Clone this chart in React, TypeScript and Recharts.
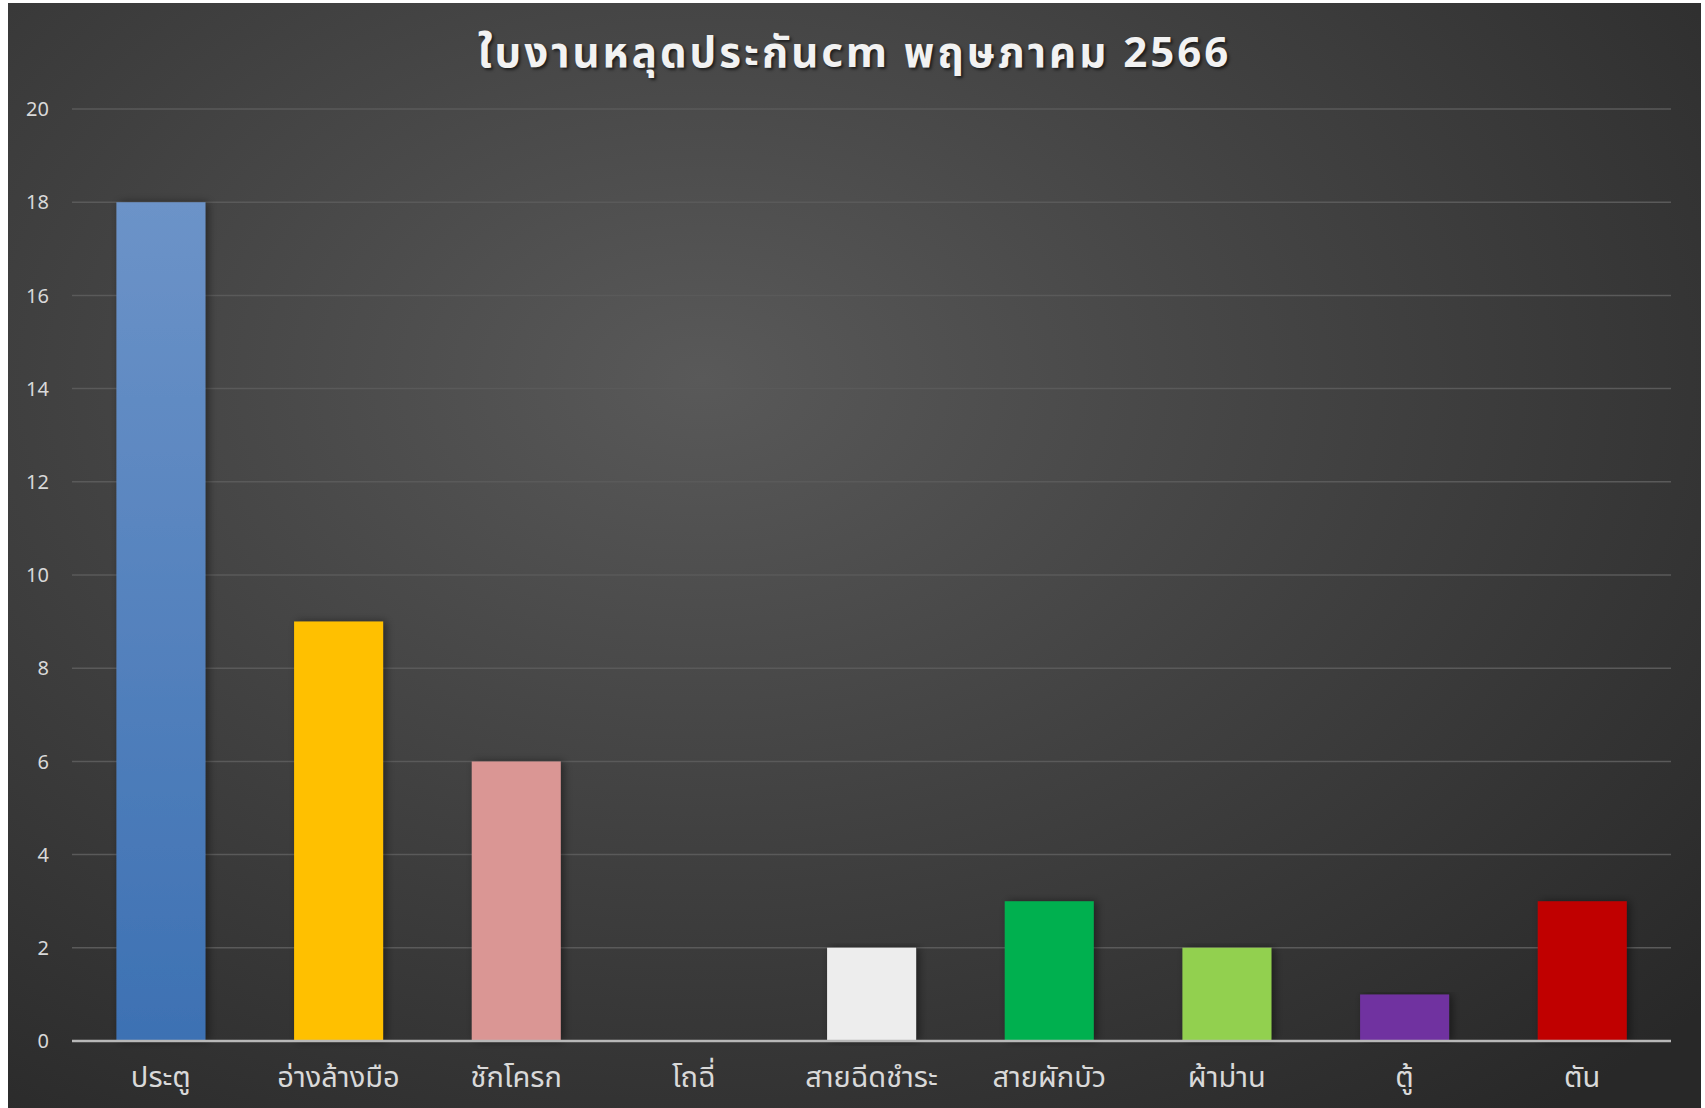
import React from 'react';
import { BarChart, Bar, XAxis, YAxis, CartesianGrid, Cell } from 'recharts';

const categories = ['ประตู', 'อ่างล้างมือ', 'ชักโครก', 'โถฉี่', 'สายฉีดชำระ', 'สายผักบัว', 'ผ้าม่าน', 'ตู้', 'ตัน'];
const counts = [18, 9, 6, 0, 2, 3, 2, 1, 3];
const barColors = ['url(#doorGrad)', '#FFC000', '#DA9694', '#7F7F7F', '#EDEDED', '#00B050', '#92D050', '#7030A0', '#C00000'];
const yTicks = [0, 2, 4, 6, 8, 10, 12, 14, 16, 18, 20];

const data = categories.map((name, i) => ({ name, value: counts[i] }));

const W = 1693;
const H = 1105;
const font = '"Noto Sans", "Noto Sans Thai", "Open Sans", sans-serif';

export default function App() {
  return (
    <div
      style={{
        position: 'absolute',
        left: 8,
        top: 3,
        width: W,
        height: H,
        background: 'radial-gradient(ellipse 80% 85% at 41% 34%, #595959 0%, #404040 50%, #282828 100%)',
        fontFamily: font,
      }}
    >
      <div
        style={{
          position: 'absolute',
          left: 0,
          width: W,
          top: 20,
          textAlign: 'center',
          color: '#f2f2f2',
          fontSize: 42,
          fontWeight: 700,
          letterSpacing: 3,
          lineHeight: '56px',
          textShadow: '2px 2px 3px rgba(0,0,0,0.6)',
        }}
      >
        ใบงานหลุดประกันcm พฤษภาคม 2566
      </div>
      <BarChart
        width={W}
        height={H}
        data={data}
        margin={{ top: 106, right: 30, bottom: 0, left: 0 }}
        barCategoryGap="25%"
      >
        <defs>
          <linearGradient id="doorGrad" x1="0" y1="0" x2="0" y2="1">
            <stop offset="0%" stopColor="#6C93C8" />
            <stop offset="100%" stopColor="#3D71B3" />
          </linearGradient>
          <filter id="barShadow" x="-20%" y="-5%" width="140%" height="110%">
            <feDropShadow dx="3" dy="0" stdDeviation="4" floodColor="#000" floodOpacity="0.45" />
          </filter>
        </defs>
        <CartesianGrid vertical={false} stroke="#5a5a5a" strokeWidth={1.5} />
        <XAxis
          dataKey="name"
          height={67}
          axisLine={{ stroke: '#b8b8b8', strokeWidth: 2.5 }}
          tickLine={false}
          tickSize={0}
          tickMargin={25}
          tick={{ fill: '#d9d9d9', fontSize: 29, fontFamily: font }}
          interval={0}
        />
        <YAxis
          width={64}
          domain={[0, 20]}
          ticks={yTicks}
          axisLine={false}
          tickLine={false}
          tickSize={0}
          tickMargin={23}
          tick={{ fill: '#d9d9d9', fontSize: 20, fontFamily: font }}
        />
        <Bar dataKey="value" isAnimationActive={false} filter="url(#barShadow)">
          {data.map((d, i) => (
            <Cell key={d.name} fill={barColors[i]} />
          ))}
        </Bar>
      </BarChart>
    </div>
  );
}
